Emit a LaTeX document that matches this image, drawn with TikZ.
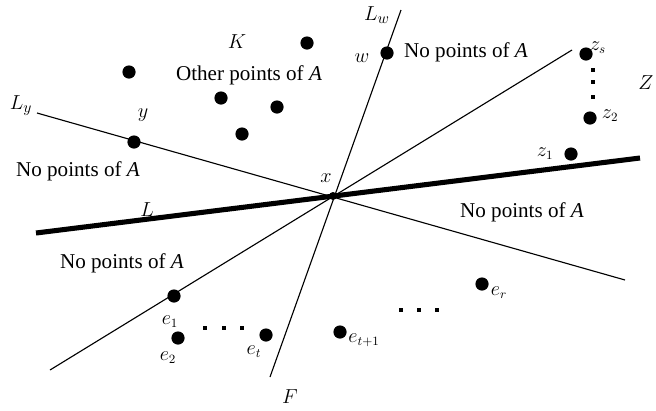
\documentclass[tikz,border=0pt]{standalone}
\usepackage{fontspec}
\setmainfont{Liberation Serif}
\usetikzlibrary{positioning}

\tikzset{
  pt/.style={circle, fill=black, inner sep=0pt, minimum size=3.3mm},
  sq/.style={rectangle, fill=black, inner sep=0pt, minimum size=1.1mm},
  region/.style={font=\fontsize{15}{17}\selectfont},
  bigname/.style={font=\fontsize{15}{17}\selectfont},
  smallname/.style={font=\fontsize{13.5}{15}\selectfont},
}

\begin{document}
\begin{tikzpicture}[x=0.025cm, y=-0.025cm]
            \useasboundingbox (0,0) rectangle (656,410);
            \clip (0,0) rectangle (656,410);
            %
            \coordinate (x) at (333,196);
            \coordinate (Lleft) at (36,233);
            \coordinate (Lright) at (640,158);
            \coordinate (Lyleft) at (37,113);
            \coordinate (Lyright) at (625,280);
            \coordinate (Lwtop) at (401,10);
            \coordinate (Fend) at (270,377);
            \coordinate (Dtop) at (572,50);
            \coordinate (Dbot) at (50,370);
            %
            \draw[line width=3.6pt] (Lleft) -- (Lright);
            \draw[line width=0.8pt] (Lyleft) -- (Lyright);
            \draw[line width=0.8pt] (Lwtop) -- (Fend);
            \draw[line width=0.8pt] (Dtop) -- (Dbot);
            \fill (x) circle (4);
            %
            \node[pt] (y) at (134,142) {};
            \node[pt] (w) at (387,53) {};
            \node[pt] (e1) at (174,296) {};
            \node[pt] (k1) at (307,43) {};
            \node[pt] (k2) at (129,72) {};
            \node[pt] (k3) at (221,98) {};
            \node[pt] (k4) at (277,107) {};
            \node[pt] (k5) at (242,134) {};
            \node[pt] (zs) at (586,54) {};
            \node[pt] (z2) at (590,118) {};
            \node[pt] (z1) at (571,154) {};
            \node[pt] (e2) at (178,338) {};
            \node[pt] (et) at (266,335) {};
            \node[pt] (et1) at (340,332) {};
            \node[pt] (er) at (482,284) {};
            %
            \foreach \yy in {70,82,97} \node[sq] at (593,\yy) {};
            \foreach \xx in {205,224,242} \node[sq] at (\xx,328) {};
            \foreach \xx in {401,419,437} \node[sq] at (\xx,310) {};
            %
            \node[bigname] (Klab) at (237,42) {$K$};
            \node[bigname] (Lylab) at (21,106) {$L_y$};
            \node[bigname] (Lwlab) at (377,15) {$L_w$};
            \node[bigname] (Llab) at (147,210) {$L$};
            \node[bigname] (Flab) at (290,397) {$F$};
            \node[bigname] (Zlab) at (646,83) {$Z$};
            \node[smallname] (ylab) at (143,115) {$y$};
            \node[smallname] (wlab) at (362,58) {$w$};
            \node[smallname] (xlab) at (326,178) {$x$};
            \node[smallname] (zslab) at (598,48) {$z_s$};
            \node[smallname] (z2lab) at (610,116) {$z_2$};
            \node[smallname] (z1lab) at (545,154) {$z_1$};
            \node[smallname] (e1lab) at (170,322) {$e_1$};
            \node[smallname] (e2lab) at (168,358) {$e_2$};
            \node[smallname] (etlab) at (254,352) {$e_t$};
            \node[smallname] (et1lab) at (364,340) {$e_{t+1}$};
            \node[smallname] (erlab) at (499,293) {$e_r$};
            %
            \node[region] (other) at (249,75) {Other points of \textit{A}};
            \node[region] (nowest) at (78,171) {No points of \textit{A}};
            \node[region] (nonorth) at (466,52) {No points of \textit{A}};
            \node[region] (noeast) at (522,212) {No points of \textit{A}};
            \node[region] (nosouth) at (122,263) {No points of \textit{A}};
        \end{tikzpicture}
\end{document}
